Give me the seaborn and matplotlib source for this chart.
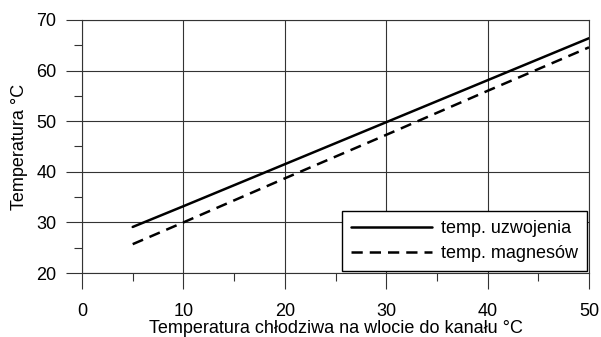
import matplotlib
matplotlib.use("Agg")
import matplotlib.pyplot as plt
import seaborn as sns
import pandas as pd
from matplotlib.ticker import MultipleLocator

x_vals = [5, 10, 20, 30, 40, 50]
uzwojenia = [29.1, 33.2, 41.5, 49.8, 58.1, 66.4]
magnesow = [25.7, 30.0, 38.7, 47.3, 56.0, 64.6]
series_names = ["temp. uzwojenia", "temp. magnesów"]
x_label = "Temperatura chłodziwa na wlocie do kanału °C"
y_label = "Temperatura °C"

sns.set_style("white")
plt.rcParams["font.family"] = ["Liberation Sans", "DejaVu Sans"]
plt.rcParams["text.color"] = "black"
plt.rcParams["axes.labelcolor"] = "black"
plt.rcParams["xtick.color"] = "black"
plt.rcParams["ytick.color"] = "black"

df = pd.DataFrame({
    "x": x_vals * 2,
    "y": uzwojenia + magnesow,
    "series": [series_names[0]] * len(x_vals) + [series_names[1]] * len(x_vals),
})

fig = plt.figure(figsize=(6.01, 3.37), dpi=100)
ax = fig.add_axes([82/601, 1-273/337, (589-82)/601, (273-20)/337])

sns.lineplot(data=df, x="x", y="y", style="series", color="black",
             dashes={series_names[0]: "", series_names[1]: (4.5, 2.8)},
             linewidth=1.8, ax=ax, legend=True)

ax.set_xlim(0, 50)
ax.set_ylim(20, 70)
ax.xaxis.set_major_locator(MultipleLocator(10))
ax.xaxis.set_minor_locator(MultipleLocator(5))
ax.yaxis.set_major_locator(MultipleLocator(10))
ax.yaxis.set_minor_locator(MultipleLocator(5))
ax.grid(True, which="major", color="#333333", linewidth=0.8)
ax.set_axisbelow(True)
ax.tick_params(axis="both", which="major", direction="out", length=11.5, width=0.8,
               color="#333333", labelcolor="black", labelsize=13, bottom=True, left=True)
ax.tick_params(axis="both", which="minor", direction="out", length=5.8, width=0.8,
               color="#333333", bottom=True, left=True)
ax.tick_params(axis="x", which="major", pad=10)
ax.tick_params(axis="y", which="major", pad=7)
for s in ["left", "bottom", "top", "right"]:
    ax.spines[s].set_visible(True)
    ax.spines[s].set_color("#333333")
    ax.spines[s].set_linewidth(0.8)

ax.set_xlabel(x_label, fontsize=13, labelpad=0, color="black")
ax.set_ylabel(y_label, fontsize=13, labelpad=6, color="black")

leg = ax.legend(loc="lower right", bbox_to_anchor=(1.0, 0.0), fontsize=13,
                frameon=True, fancybox=False, handlelength=4.5, handletextpad=0.5,
                borderpad=0.5, labelspacing=0.45, borderaxespad=0.1)
leg.get_frame().set_edgecolor("black")
leg.get_frame().set_linewidth(1.0)
leg.get_frame().set_alpha(1.0)
for t in leg.get_texts():
    t.set_color("black")

fig.savefig("out.png", dpi=100)
